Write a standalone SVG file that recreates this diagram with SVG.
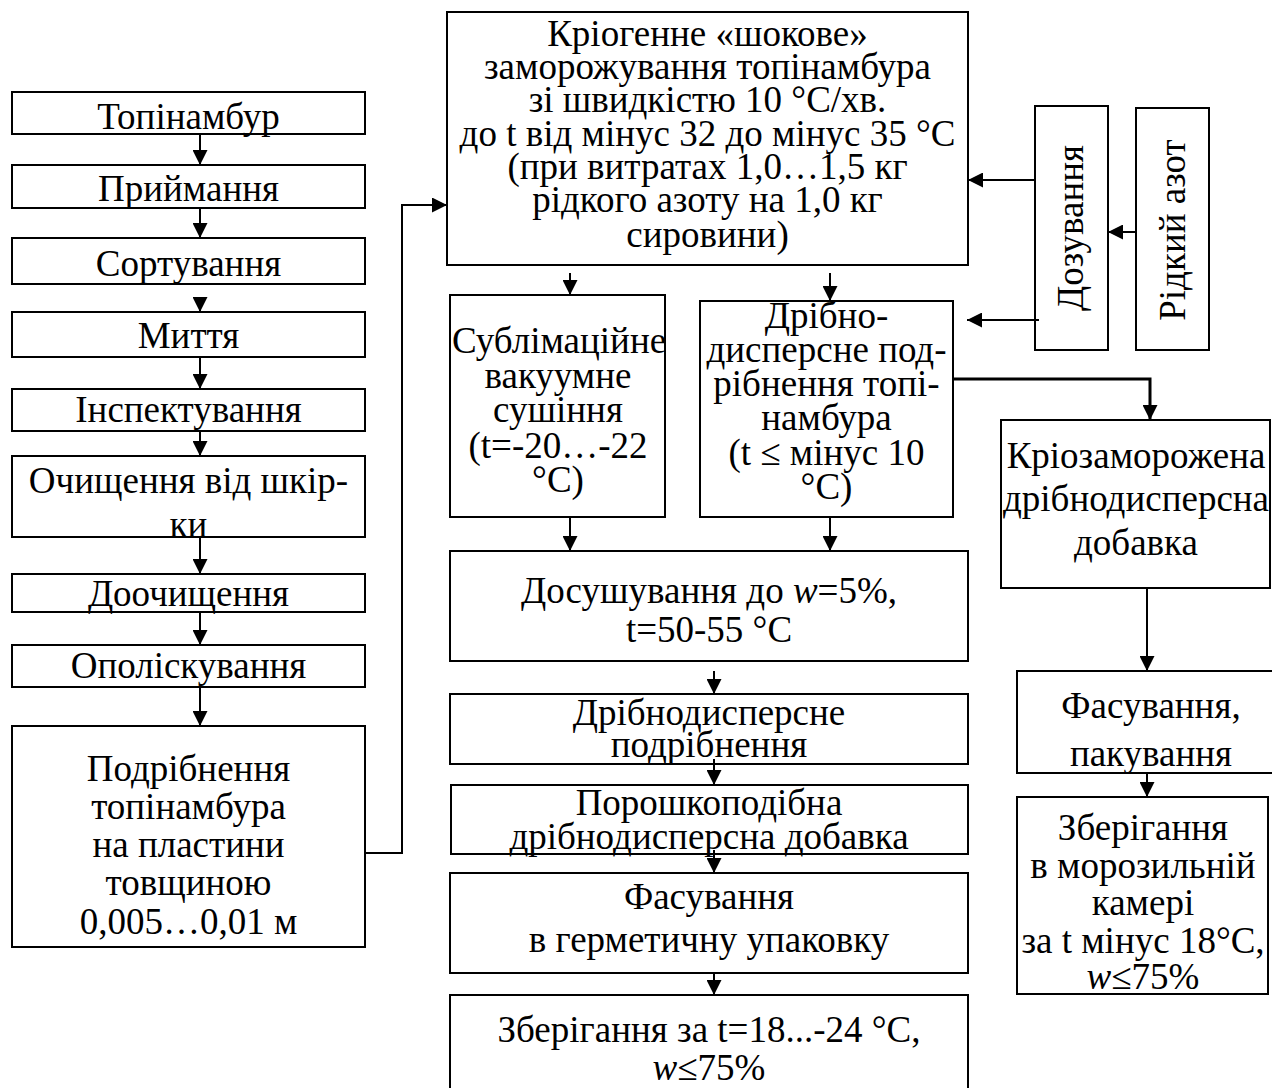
<svg xmlns="http://www.w3.org/2000/svg" width="1272" height="1088" viewBox="0 0 1272 1088">
<style>
.box{fill:#fff;stroke:#000;stroke-width:2}
.t{font-family:"Liberation Serif","Times New Roman",serif;font-size:37px;fill:#000;text-anchor:middle}
.c{fill:none;stroke:#000;stroke-width:2}
.cb{fill:none;stroke:#000;stroke-width:3}
.i{font-style:italic}
</style>
<defs>
<marker id="ah" markerUnits="userSpaceOnUse" markerWidth="15" markerHeight="15" refX="15" refY="7.5" orient="auto" viewBox="0 0 15 15"><path d="M0,0 L15,7.5 L0,15 z" fill="#000"/></marker>
<clipPath id="clipS"><rect x="451" y="296" width="213" height="220"/></clipPath>
</defs>
<rect x="0" y="0" width="1272" height="1088" fill="#fff"/>

<g id="n1"><rect class="box" x="12" y="92" width="353" height="42"/><text class="t" x="188.5" y="129">Топінамбур</text></g>
<g id="n2"><rect class="box" x="12" y="165" width="353" height="43"/><text class="t" x="188.5" y="201">Приймання</text></g>
<g id="n3"><rect class="box" x="12" y="238" width="353" height="46"/><text class="t" x="188.5" y="276">Сортування</text></g>
<g id="n4"><rect class="box" x="12" y="312" width="353" height="45"/><text class="t" x="188.5" y="348">Миття</text></g>
<g id="n5"><rect class="box" x="12" y="389" width="353" height="42"/><text class="t" x="188.5" y="422">Інспектування</text></g>
<g id="n6"><rect class="box" x="12" y="456" width="353" height="81"/><text class="t" x="188.5" y="493">Очищення від шкір-</text><text class="t" x="188.5" y="537">ки</text></g>
<g id="n7"><rect class="box" x="12" y="574" width="353" height="38"/><text class="t" x="188.5" y="606">Доочищення</text></g>
<g id="n8"><rect class="box" x="12" y="645" width="353" height="42"/><text class="t" x="188.5" y="678">Ополіскування</text></g>
<g id="n9"><rect class="box" x="12" y="726" width="353" height="221"/>
<text class="t" x="188.5" y="781">Подрібнення</text>
<text class="t" x="188.5" y="819">топінамбура</text>
<text class="t" x="188.5" y="857">на пластини</text>
<text class="t" x="188.5" y="895">товщиною</text>
<text class="t" x="188.5" y="934">0,005…0,01 м</text></g>

<g id="n10"><rect class="box" x="447" y="12" width="521" height="253"/>
<text class="t" x="707.5" y="46">Кріогенне «шокове»</text>
<text class="t" x="707.5" y="79">заморожування топінамбура</text>
<text class="t" x="707.5" y="112">зі швидкістю 10 °С/хв.</text>
<text class="t" x="707.5" y="146">до t від мінус 32 до мінус 35 °С</text>
<text class="t" x="707.5" y="179">(при витратах 1,0…1,5 кг</text>
<text class="t" x="707.5" y="212">рідкого азоту на 1,0 кг</text>
<text class="t" x="707.5" y="247">сировини)</text></g>

<g id="n11"><rect class="box" x="1035" y="106" width="73" height="244"/><text class="t" transform="translate(1083,228) rotate(-90)">Дозування</text></g>
<g id="n12"><rect class="box" x="1136" y="108" width="73" height="242"/><text class="t" transform="translate(1185,230) rotate(-90)">Рідкий азот</text></g>

<g id="n13"><rect class="box" x="450" y="295" width="215" height="222"/>
<text class="t" x="452" y="353" style="text-anchor:start" clip-path="url(#clipS)">Сублімаційне</text>
<text class="t" x="558" y="388">вакуумне</text>
<text class="t" x="558" y="422">сушіння</text>
<text class="t" x="558" y="458">(t=-20…-22</text>
<text class="t" x="558" y="492">°С)</text></g>

<g id="n14"><rect class="box" x="700" y="301" width="253" height="216"/>
<text class="t" x="826.5" y="328">Дрібно-</text>
<text class="t" x="826.5" y="362">дисперсне под-</text>
<text class="t" x="826.5" y="396">рібнення топі-</text>
<text class="t" x="826.5" y="430">намбура</text>
<text class="t" x="826.5" y="465">(t ≤ мінус 10</text>
<text class="t" x="826.5" y="499">°С)</text></g>

<g id="n15"><rect class="box" x="1001" y="420" width="269" height="168"/>
<text class="t" x="1136" y="468">Кріозаморожена</text>
<text class="t" x="1136" y="511">дрібнодисперсна</text>
<text class="t" x="1136" y="555">добавка</text></g>

<g id="n16"><rect class="box" x="1017" y="671" width="275" height="102"/>
<text class="t" x="1151" y="718">Фасування,</text>
<text class="t" x="1151" y="766">пакування</text></g>

<g id="n17"><rect class="box" x="1017" y="797" width="251" height="197"/>
<text class="t" x="1143" y="840">Зберігання</text>
<text class="t" x="1143" y="878">в морозильній</text>
<text class="t" x="1143" y="915">камері</text>
<text class="t" x="1143" y="953">за t мінус 18°С,</text>
<text class="t" x="1143" y="989"><tspan class="i">w</tspan>≤75%</text></g>

<g id="n18"><rect class="box" x="450" y="551" width="518" height="110"/>
<text class="t" x="709" y="603">Досушування до <tspan class="i">w</tspan>=5%,</text>
<text class="t" x="709" y="642">t=50-55 °С</text></g>

<g id="n19"><rect class="box" x="450" y="694" width="518" height="70"/>
<text class="t" x="709" y="725">Дрібнодисперсне</text>
<text class="t" x="709" y="757">подрібнення</text></g>

<g id="n20"><rect class="box" x="451" y="785" width="517" height="69"/>
<text class="t" x="709" y="815">Порошкоподібна</text>
<text class="t" x="709" y="849">дрібнодисперсна добавка</text></g>

<g id="n21"><rect class="box" x="450" y="873" width="518" height="100"/>
<text class="t" x="709" y="909">Фасування</text>
<text class="t" x="709" y="952">в герметичну упаковку</text></g>

<g id="n22"><rect class="box" x="450" y="995" width="518" height="110"/>
<text class="t" x="709" y="1042">Зберігання за t=18...-24 °С,</text>
<text class="t" x="709" y="1080"><tspan class="i">w</tspan>≤75%</text></g>

<g id="connectors">
<path class="c" d="M200,134 V165" marker-end="url(#ah)"/>
<path class="c" d="M200,208 V238" marker-end="url(#ah)"/>
<path class="c" d="M200,297 V312" marker-end="url(#ah)"/>
<path class="c" d="M200,357 V389" marker-end="url(#ah)"/>
<path class="c" d="M200,431 V456" marker-end="url(#ah)"/>
<path class="c" d="M200,537 V574" marker-end="url(#ah)"/>
<path class="c" d="M200,612 V645" marker-end="url(#ah)"/>
<path class="c" d="M200,687 V726" marker-end="url(#ah)"/>
<path class="c" d="M365,853 H402 V205 H447" marker-end="url(#ah)"/>
<path class="c" d="M570,273 V295" marker-end="url(#ah)"/>
<path class="c" d="M830,273 V301" marker-end="url(#ah)"/>
<path class="c" d="M1035,180 H968" marker-end="url(#ah)"/>
<path class="c" d="M1039,320 H967" marker-end="url(#ah)"/>
<path class="c" d="M1136,232 H1108" marker-end="url(#ah)"/>
<path class="cb" d="M953,379 H1150 V420" marker-end="url(#ah)"/>
<path class="c" d="M1147,588 V671" marker-end="url(#ah)"/>
<path class="c" d="M1147,773 V797" marker-end="url(#ah)"/>
<path class="c" d="M570,517 V551" marker-end="url(#ah)"/>
<path class="c" d="M830,517 V551" marker-end="url(#ah)"/>
<path class="c" d="M714,671 V694" marker-end="url(#ah)"/>
<path class="c" d="M714,759 V785" marker-end="url(#ah)"/>
<path class="c" d="M714,850 V873" marker-end="url(#ah)"/>
<path class="c" d="M714,973 V995" marker-end="url(#ah)"/>
</g>
</svg>
